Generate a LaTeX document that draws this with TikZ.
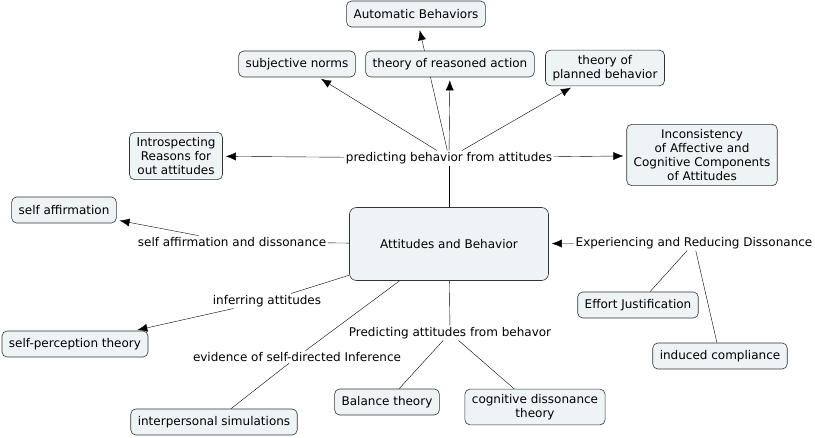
\documentclass[tikz,border=0pt]{standalone}
\usepackage{fontspec}
\setmainfont{DejaVu Sans}
\usetikzlibrary{arrows.meta,backgrounds}
\definecolor{conceptfill}{HTML}{EEF3F6}

\begin{document}
\begin{tikzpicture}[x=1pt,y=-1pt,line width=0.6pt,
  every node/.style={font=\fontsize{12}{14}\selectfont},
  concept/.style={draw=black!80,fill=conceptfill,rounded corners=5pt,align=center,
    inner xsep=7pt,inner ysep=5pt,minimum height=26pt},
  linking/.style={fill=white,inner sep=1.5pt,align=center},
  arr/.style={-{Latex[length=10pt,width=8pt]},shorten >=3pt}]
  \useasboundingbox (0,0) rectangle (815,438);

  % concepts
  \node (attbeh) [concept,minimum width=199pt,minimum height=73pt,rounded corners=7pt] at (449,244) {Attitudes and Behavior};
  \node (autobeh) [concept] at (416,14) {Automatic Behaviors};
  \node (subjnorms) [concept] at (297,64) {subjective norms};
  \node (reasoned) [concept] at (450,64) {theory of reasoned action};
  \node (planned) [concept] at (605,68) {theory of\\planned behavior};
  \node (introspect) [concept] at (176,156) {Introspecting\\Reasons for\\out attitudes};
  \node (inconsist) [concept] at (702,155) {Inconsistency\\of Affective and\\Cognitive Components\\of Attitudes};
  \node (selfaff) [concept] at (64,210) {self affirmation};
  \node (selfperc) [concept] at (75,344) {self-perception theory};
  \node (effort) [concept] at (638,305) {Effort Justification};
  \node (induced) [concept] at (720,356) {induced compliance};
  \node (balance) [concept] at (387,402) {Balance theory};
  \node (cogdiss) [concept] at (535,407) {cognitive dissonance\\theory};
  \node (interpers) [concept] at (214,422) {interpersonal simulations};

  % linking phrases (behind the concepts)
  \begin{pgfonlayer}{background}
  \node (predbeh) [linking] at (449,158) {predicting behavior from attitudes}
    edge (attbeh)
    edge [arr] (autobeh)
    edge [arr] (subjnorms)
    edge [arr] (reasoned)
    edge [arr] (planned)
    edge [arr] (introspect)
    edge [arr] (inconsist);
  \node (affdiss) [linking] at (232,242) {self affirmation and dissonance}
    edge (attbeh)
    edge [arr] (selfaff);
  \node (inferring) [linking] at (267,301) {inferring attitudes}
    edge (attbeh)
    edge [arr] (selfperc);
  \node (evidence) [linking] at (297,357) {evidence of self-directed Inference}
    edge (attbeh)
    edge (interpers);
  \node (predatt) [linking] at (450,333) {Predicting attitudes from behavor}
    edge (attbeh)
    edge (balance)
    edge (cogdiss);
  \node (experiencing) [linking] at (694,243) {Experiencing and Reducing Dissonance}
    edge [arr] (attbeh)
    edge (effort)
    edge (induced);
  \end{pgfonlayer}
\end{tikzpicture}
\end{document}
